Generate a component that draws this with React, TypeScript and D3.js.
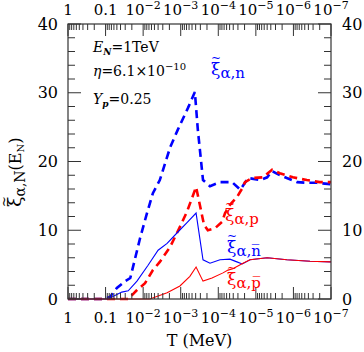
import React from 'react';
import * as d3 from 'd3';

const W = 364;
const H = 352;
const margin = { top: 24, right: 33, bottom: 53, left: 68 };

// xi_{alpha,n}  (blue dashed)
const tN = [1, 0.11, 0.076, 0.05, 0.03, 0.022, 0.012, 7.9e-3, 5.5e-3, 3.6e-3, 1.9e-3, 1.2e-3, 6.4e-4, 4.2e-4, 3.5e-4, 2.55e-4, 1.66e-4, 9.0e-5, 4.3e-5, 2.6e-5, 1.6e-5, 7.7e-6, 5.0e-6, 3.7e-6, 2.7e-6, 1.5e-6, 8.0e-7, 4.4e-7, 2.4e-7, 1e-7];
const xiN = [0, 0, 0.3, 1.6, 2.6, 3.05, 8.9, 12.5, 15.4, 17.3, 22.1, 24.6, 27.8, 30.1, 24.6, 17.3, 16.4, 17.0, 17.0, 15.9, 17.6, 17.3, 17.7, 18.6, 18.2, 17.6, 17.0, 16.9, 16.9, 16.7];

// xi_{alpha,p}  (red dashed)
const tP = [1, 0.025, 0.0146, 8.9e-3, 5.5e-3, 3.6e-3, 1.9e-3, 1.05e-3, 6.8e-4, 3.9e-4, 3.1e-4, 2.4e-4, 1.9e-4, 1.22e-4, 8.0e-5, 6.6e-5, 4.9e-5, 3.2e-5, 2.3e-5, 1.95e-5, 1.26e-5, 6.5e-6, 3.7e-6, 2.3e-6, 1.03e-6, 4.4e-7, 2.0e-7, 1e-7];
const xiP = [0, 0, 1.3, 2.3, 4.2, 5.4, 7.6, 10.5, 12.7, 16.3, 13.7, 10.8, 10.0, 10.3, 11.2, 12.5, 13.7, 14.8, 16.1, 17.0, 17.6, 17.7, 18.8, 18.3, 17.7, 17.3, 17.0, 17.0];

// xi_{alpha,nbar}  (blue solid)
const tNbar = [1, 0.086, 0.037, 0.025, 0.0146, 7.4e-3, 4.0e-3, 2.3e-3, 1.26e-3, 6.8e-4, 3.9e-4, 2.55e-4, 1.66e-4, 9.0e-5, 4.9e-5, 3.2e-5, 2.3e-5, 1.43e-5, 5.0e-6, 1.5e-6, 3.6e-7, 1e-7];
const xiNbar = [0, 0, 1.0, 1.2, 2.6, 4.9, 7.1, 8.1, 9.6, 11.1, 12.5, 5.7, 5.2, 5.7, 5.8, 5.4, 5.1, 5.7, 6.0, 5.7, 5.5, 5.4];

// xi_{alpha,pbar}  (red solid)
const tPbar = [1, 6.6e-3, 2.3e-3, 1.05e-3, 5.7e-4, 3.9e-4, 2.55e-4, 1.47e-4, 7.5e-5, 5.5e-5, 4.1e-5, 2.2e-5, 1.43e-5, 5.0e-6, 1.5e-6, 3.6e-7, 1e-7];
const xiPbar = [0, 0, 0.9, 1.9, 3.3, 4.65, 2.6, 3.05, 3.8, 4.2, 4.4, 5.2, 5.7, 6.0, 5.7, 5.5, 5.4];

// tick labels
const xLabelT = [1, 0.1, 1e-2, 1e-3, 1e-4, 1e-5, 1e-6, 1e-7];
const xLabelBase = ['1', '0.1', '10', '10', '10', '10', '10', '10'];
const xLabelExp = ['', '', '−2', '−3', '−4', '−5', '−6', '−7'];
const yLabelValues = [0, 10, 20, 30, 40];

const FONT = 'DejaVu Serif';
const BLUE = '#0000ff';
const RED = '#ff0000';

// xi with a tilde drawn on top of it, followed by a lowered subscript
const XiLabel = ({ x, y, size, color, sub }: { x: number; y: number; size: number; color: string; sub: React.ReactNode }) => {
  const ts = size * 0.7;
  return (
    <g fill={color}>
      <text x={x} y={y} fontSize={size}>
        ξ<tspan fontSize={size * 0.88} dy={3}>{sub}</tspan>
      </text>
      <text x={x + size * 0.3} y={y - size * 0.98 + ts * 0.33} fontSize={ts} textAnchor="middle">~</text>
    </g>
  );
};

const App = () => {
  const x = d3.scaleLog().domain([1, 1e-7]).range([margin.left, W - margin.right]);
  const y = d3.scaleLinear().domain([0, 40]).range([H - margin.bottom, margin.top]);
  const x0 = margin.left, x1 = W - margin.right;
  const y0 = H - margin.bottom, y1 = margin.top;

  const line = d3.line<[number, number]>().x(d => x(d[0])).y(d => y(d[1]));
  const series = (ts: number[], vs: number[]) => line(ts.map((t, i) => [t, vs[i]] as [number, number])) || '';

  const xTicks = x.ticks();
  const isDecade = (t: number) => Math.abs(Math.log10(t) - Math.round(Math.log10(t))) < 1e-6;
  const yTicks = d3.range(0, 41, 2);

  return (
    <svg width={W} height={H} style={{ position: 'fixed', left: 0, top: 0, background: '#fff' }}
      fontFamily={FONT}>
      <rect width={W} height={H} fill="#fff" />

      {/* curves */}
      <g fill="none">
        <path d={series(tN, xiN)} stroke={BLUE} strokeWidth={2.6} strokeDasharray="8,5" />
        <path d={series(tP, xiP)} stroke={RED} strokeWidth={2.6} strokeDasharray="8,5" />
        <path d={series(tNbar, xiNbar)} stroke={BLUE} strokeWidth={1.1} />
        <path d={series(tPbar, xiPbar)} stroke={RED} strokeWidth={1.1} />
      </g>

      {/* frame */}
      <rect x={x0} y={y1} width={x1 - x0} height={y0 - y1} fill="none" stroke="#333" strokeWidth={1.2} />

      {/* ticks on all four sides */}
      <g stroke="#333" strokeWidth={1}>
        {xTicks.map((t, i) => {
          const len = isDecade(t) ? 12 : 6;
          const px = x(t);
          return (
            <g key={i}>
              <line x1={px} x2={px} y1={y0} y2={y0 - len} />
              <line x1={px} x2={px} y1={y1} y2={y1 + len} />
            </g>
          );
        })}
        {yTicks.map((v, i) => {
          const len = v % 10 === 0 ? 13 : 7;
          const py = y(v);
          return (
            <g key={i}>
              <line x1={x0} x2={x0 + len} y1={py} y2={py} />
              <line x1={x1} x2={x1 - len} y1={py} y2={py} />
            </g>
          );
        })}
      </g>

      {/* x tick labels */}
      <g fontSize={15} textAnchor="middle" fill="#000">
        {xLabelT.map((t, i) => (
          <g key={i}>
            <text x={x(t)} y={323}>
              {xLabelBase[i]}
              {xLabelExp[i] && <tspan fontSize={11} dy={-6}>{xLabelExp[i]}</tspan>}
            </text>
            <text x={x(t)} y={15}>
              {xLabelBase[i]}
              {xLabelExp[i] && <tspan fontSize={11} dy={-6}>{xLabelExp[i]}</tspan>}
            </text>
          </g>
        ))}
      </g>

      {/* y tick labels */}
      <g fontSize={16} fill="#000" dominantBaseline="central">
        {yLabelValues.map(v => (
          <g key={v}>
            <text x={x0 - 10} y={y(v)} textAnchor="end">{v}</text>
            <text x={x1 + 11} y={y(v)} textAnchor="start">{v}</text>
          </g>
        ))}
      </g>

      {/* axis titles */}
      <text x={(x0 + x1) / 2} y={346} fontSize={16} textAnchor="middle">T (MeV)</text>
      <g transform="translate(21,165) rotate(-90)">
        <text x={-42} y={0} fontSize={16}>
          <tspan fontSize={19}>ξ</tspan>
          <tspan fontSize={14} dy={4}>α,N</tspan>
          <tspan dy={-4}>(E</tspan>
          <tspan fontSize={10} dy={3}>N</tspan>
          <tspan dy={-3}>)</tspan>
        </text>
        <text x={-42 + 5.5} y={-19 * 0.9 + 13 * 0.33} fontSize={13} textAnchor="middle">~</text>
      </g>

      {/* parameters */}
      <g fontSize={14} fill="#000">
        <text x={93} y={52}>
          <tspan fontStyle="italic">E</tspan>
          <tspan fontSize={9} fontStyle="italic" fontWeight="bold" dy={3}>N</tspan>
          <tspan dy={-3}>=1TeV</tspan>
        </text>
        <text x={93} y={76}>
          <tspan fontStyle="italic">η</tspan>
          <tspan>=6.1×10</tspan>
          <tspan fontSize={10} dy={-6}>−10</tspan>
        </text>
        <text x={93} y={104}>
          <tspan fontStyle="italic">Y</tspan>
          <tspan fontSize={9} fontStyle="italic" fontWeight="bold" dy={3}>p</tspan>
          <tspan dy={-3}>=0.25</tspan>
        </text>
      </g>

      {/* curve labels */}
      <XiLabel x={211} y={75} size={17} color={BLUE} sub="α,n" />
      <XiLabel x={225} y={221} size={17} color={RED} sub="α,p" />
      <XiLabel x={227} y={253} size={17} color={BLUE} sub="α,n̅" />
      <XiLabel x={227} y={285} size={17} color={RED} sub="α,p̅" />
    </svg>
  );
};

export default App;
